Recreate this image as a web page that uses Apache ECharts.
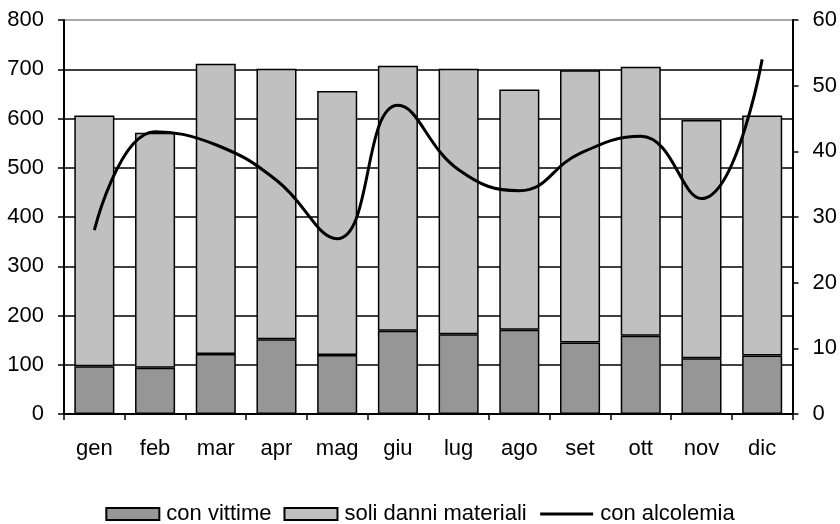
<!DOCTYPE html>
<html>
<head>
<meta charset="utf-8">
<script src="https://cdn.jsdelivr.net/npm/echarts@6/dist/echarts.min.js"></script>
<style>
  html, body { margin: 0; padding: 0; background: #fff; }
  #chart { width: 840px; height: 524px; }
</style>
</head>
<body>
<div id="chart"></div>
<script>
// Monthly accident counts (left axis) and alcohol-related accidents (right axis)
const months = ['gen', 'feb', 'mar', 'apr', 'mag', 'giu', 'lug', 'ago', 'set', 'ott', 'nov', 'dic'];
const conVittime = [97, 94, 122, 152, 120, 169, 162, 171, 145, 159, 113, 119];
const soliDanniMateriali = [509, 477, 589, 549, 536, 538, 539, 488, 553, 546, 484, 487];
const conAlcolemia = [28, 43, 41, 35.6, 26.7, 47, 37.2, 34, 39.7, 42.3, 32.8, 54];
const leftTicks = { min: 0, max: 800, interval: 100 };
const rightTicks = { min: 0, max: 60, interval: 10 };

const FONT = 'Liberation Sans, Arial, sans-serif';
const textStyle = { fontFamily: FONT, fontSize: 22, color: '#000' };

const chart = echarts.init(document.getElementById('chart'), null, { renderer: 'canvas' });

// split line colours: black for inner lines, grey for the top frame at 800
const splitColors = [];
for (let v = leftTicks.min; v <= leftTicks.max; v += leftTicks.interval) {
  splitColors.push(v === leftTicks.max ? '#8a8a8a' : '#000');
}

chart.setOption({
  animation: false,
  backgroundColor: '#fff',
  textStyle: { fontFamily: FONT },
  grid: { left: 64, right: 47, top: 20, bottom: 110, containLabel: false },
  legend: {
    top: 498,
    left: 'center',
    itemWidth: 53,
    itemHeight: 12,
    itemGap: 12,
    textStyle: Object.assign({}, textStyle, { padding: [0, 0, 0, 2] }),
    data: [
      { name: 'con vittime', icon: 'rect' },
      { name: 'soli danni materiali', icon: 'rect' },
      {
        name: 'con alcolemia',
        itemStyle: { color: 'rgba(0,0,0,0)', borderColor: 'rgba(0,0,0,0)', borderWidth: 0 },
        lineStyle: { color: '#000', width: 3 }
      }
    ]
  },
  xAxis: {
    type: 'category',
    data: months,
    boundaryGap: true,
    axisLine: { show: true, lineStyle: { color: '#000', width: 2 } },
    axisTick: { show: true, length: 6, inside: false, lineStyle: { color: '#000', width: 1.5 } },
    axisLabel: Object.assign({ margin: 24 }, textStyle),
    splitLine: { show: false }
  },
  yAxis: [
    {
      type: 'value',
      min: leftTicks.min, max: leftTicks.max, interval: leftTicks.interval,
      position: 'left',
      axisLine: { show: true, lineStyle: { color: '#000', width: 2 } },
      axisTick: { show: true, length: 6, lineStyle: { color: '#000', width: 1.5 } },
      axisLabel: Object.assign({ margin: 20 }, textStyle),
      splitLine: { show: true, lineStyle: { color: splitColors, width: 1.5 } }
    },
    {
      type: 'value',
      min: rightTicks.min, max: rightTicks.max, interval: rightTicks.interval,
      position: 'right',
      axisLine: { show: true, lineStyle: { color: '#000', width: 2 } },
      axisTick: { show: true, length: 6, lineStyle: { color: '#000', width: 1.5 } },
      axisLabel: Object.assign({ margin: 20 }, textStyle),
      splitLine: { show: false }
    }
  ],
  series: [
    {
      name: 'con vittime',
      type: 'bar',
      stack: 'incidenti',
      yAxisIndex: 0,
      data: conVittime,
      barWidth: '66%',
      itemStyle: { color: '#969696', borderColor: '#000', borderWidth: 1.5 }
    },
    {
      name: 'soli danni materiali',
      type: 'bar',
      stack: 'incidenti',
      yAxisIndex: 0,
      data: soliDanniMateriali,
      barWidth: '66%',
      itemStyle: { color: '#c0c0c0', borderColor: '#000', borderWidth: 1.5 }
    },
    {
      name: 'con alcolemia',
      type: 'line',
      yAxisIndex: 1,
      data: conAlcolemia,
      smooth: 0.45,
      symbol: 'none',
      z: 5,
      lineStyle: { color: '#000', width: 3 },
      itemStyle: { color: '#000' }
    }
  ]
});
</script>
</body>
</html>
